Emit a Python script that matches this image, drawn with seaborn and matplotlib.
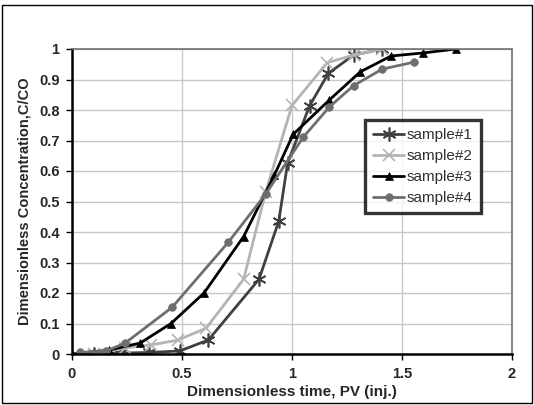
import matplotlib
matplotlib.use("Agg")
import matplotlib.pyplot as plt
import seaborn as sns
import pandas as pd
from matplotlib.patches import Rectangle

# ---- data ----
s1_x = [0.10, 0.22, 0.35, 0.49, 0.62, 0.85, 0.94, 0.98, 1.08, 1.165, 1.28, 1.41]
s1_y = [0.00, 0.003, 0.005, 0.01, 0.046, 0.245, 0.436, 0.626, 0.814, 0.92, 0.98, 1.00]

s2_x = [0.10, 0.24, 0.36, 0.48, 0.61, 0.78, 0.88, 1.00, 1.16, 1.28, 1.41]
s2_y = [0.00, 0.02, 0.03, 0.045, 0.085, 0.245, 0.53, 0.815, 0.955, 0.98, 1.00]

s3_x = [0.00, 0.17, 0.31, 0.45, 0.60, 0.78, 0.92, 1.005, 1.17, 1.31, 1.45, 1.595, 1.745]
s3_y = [0.00, 0.013, 0.036, 0.10, 0.20, 0.385, 0.587, 0.72, 0.833, 0.925, 0.977, 0.987, 1.00]

s4_x = [0.036, 0.155, 0.24, 0.455, 0.71, 0.88, 1.05, 1.17, 1.28, 1.41, 1.555]
s4_y = [0.005, 0.01, 0.035, 0.153, 0.366, 0.524, 0.71, 0.81, 0.88, 0.934, 0.957]

labels = ["sample#1", "sample#2", "sample#3", "sample#4"]
colors = ["#404040", "#b4b4b4", "#000000", "#6e6e6e"]
x_ticks = [0, 0.5, 1, 1.5, 2]
y_ticks = [0, 0.1, 0.2, 0.3, 0.4, 0.5, 0.6, 0.7, 0.8, 0.9, 1]

sns.set_theme(style="white")
plt.rcParams['font.family'] = ['Liberation Sans', 'DejaVu Sans']

fig = plt.figure(figsize=(5.34, 4.05), dpi=100)
ax = fig.add_axes([72/534, 1 - 354/405, 440/534, 305/405])

series = [(s1_x, s1_y), (s2_x, s2_y), (s3_x, s3_y), (s4_x, s4_y)]
marker_specs = [
    dict(marker=(6, 2, 0), markersize=10, markeredgewidth=1.2),
    dict(marker="x", markersize=8, markeredgewidth=1.2),
    dict(marker="^", markersize=6, markeredgewidth=0.5),
    dict(marker="o", markersize=5.5, markeredgewidth=0.5),
]
for (xs, ys), lab, col, mk in zip(series, labels, colors, marker_specs):
    df = pd.DataFrame({"x": xs, "y": ys})
    sns.lineplot(data=df, x="x", y="y", ax=ax, sort=False, color=col,
                 linewidth=2, label=lab, markeredgecolor=col,
                 markerfacecolor=col, **mk)

ax.set_xlim(0, 2)
ax.set_ylim(0, 1)
ax.set_xticks(x_ticks)
ax.set_xticklabels(["0", "0.5", "1", "1.5", "2"])
ax.set_yticks(y_ticks)
ax.set_yticklabels(["0", "0.1", "0.2", "0.3", "0.4", "0.5", "0.6", "0.7", "0.8", "0.9", "1"])
ax.grid(True, color="#c8c8c8", linewidth=1)
ax.set_axisbelow(True)
for lbl in ax.get_xticklabels() + ax.get_yticklabels():
    lbl.set_fontweight("bold")
    lbl.set_fontsize(10.5)
ax.tick_params(axis="both", which="major", direction="out", length=4, width=1,
               color="black", left=True, bottom=True, pad=5)
ax.spines["left"].set_color("black")
ax.spines["left"].set_linewidth(1.8)
ax.spines["bottom"].set_color("black")
ax.spines["bottom"].set_linewidth(1.8)
ax.spines["top"].set_color("#707070")
ax.spines["top"].set_linewidth(1.2)
ax.spines["right"].set_color("#707070")
ax.spines["right"].set_linewidth(1.2)

ax.set_xlabel("Dimensionless time, PV (inj.)", fontsize=11, fontweight="bold", labelpad=3)
ax.set_ylabel("Dimensionless Concentration,C/CO", fontsize=10.5, fontweight="bold", labelpad=5)

leg = ax.legend(loc="upper left", bbox_to_anchor=(0.666, 0.767), frameon=True,
                fancybox=False, shadow=False, fontsize=11, handlelength=2.0,
                handletextpad=0.15, labelspacing=0.45, borderpad=0.55, borderaxespad=0)
leg.get_frame().set_edgecolor("black")
leg.get_frame().set_linewidth(2.4)
leg.get_frame().set_facecolor("white")
for t in leg.get_texts():
    t.set_color("#303030")

# outer border of the chart area
fig.patches.append(Rectangle((2/534, 2/405), 530/534, 398/405, transform=fig.transFigure,
                             fill=False, edgecolor="black", linewidth=1))

fig.savefig("out.png", dpi=100)
